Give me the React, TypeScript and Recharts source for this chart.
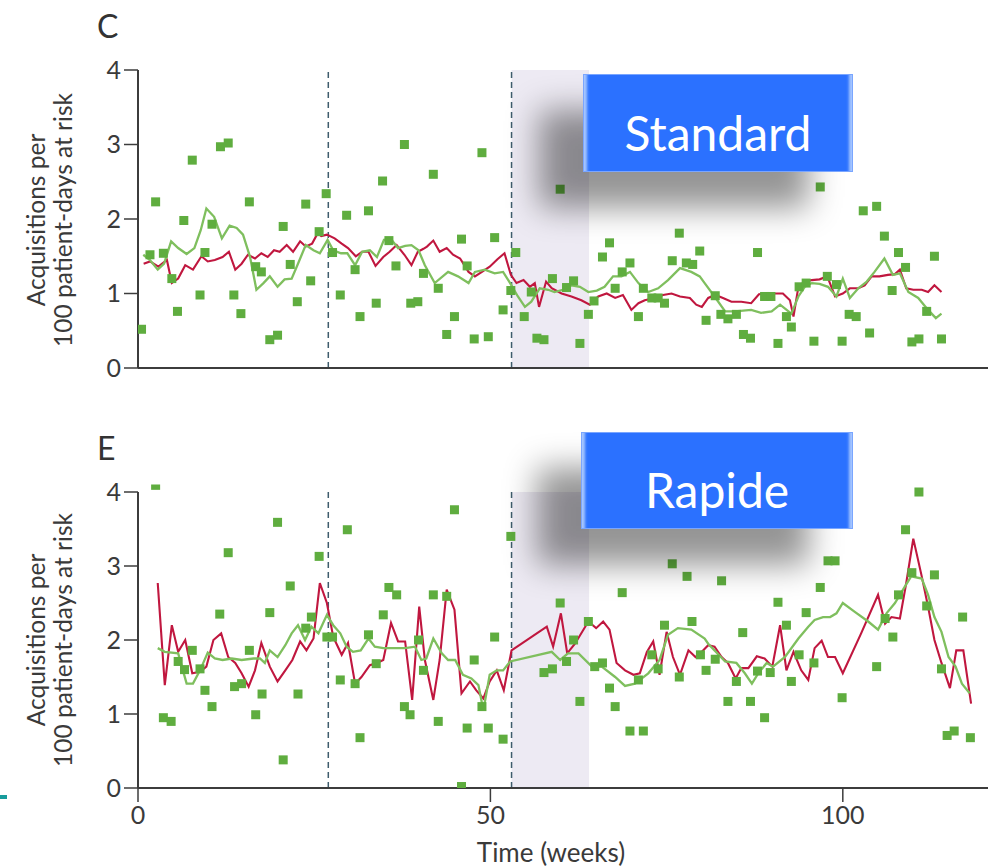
import React from 'react';
import { ComposedChart, Line, Scatter, XAxis, YAxis, ReferenceLine, ReferenceArea } from 'recharts';

const weekTicks = [0, 50, 100];
const rateTicks = [0, 1, 2, 3, 4];
const interventionWeeks = [27, 53];
const shadedPeriod = [53, 64];

const standardPoints: [number, number][] = [
  [0.5,0.52],[1.7,1.52],[2.5,2.23],[3.6,1.54],[4.8,1.20],[5.6,0.76],[6.5,1.98],[7.7,2.79],[8.8,0.98],[9.5,1.55],
  [10.5,1.93],[11.7,2.97],[12.8,3.02],[13.6,0.98],[14.6,0.73],[15.8,2.23],[16.7,1.36],[17.5,1.29],[18.7,0.38],[19.8,0.44],
  [20.6,1.90],[21.6,1.39],[22.6,0.89],[23.8,2.20],[24.5,1.17],[25.7,1.83],[26.7,2.34],[27.6,1.55],[28.7,0.98],[29.6,2.05],
  [30.8,1.32],[31.5,0.69],[32.7,2.11],[33.8,0.87],[34.7,2.51],[35.6,1.71],[36.6,1.37],[37.8,3.00],[38.7,0.87],[39.7,0.89],
  [40.5,1.27],[41.9,2.60],[42.6,1.07],[43.8,0.45],[44.9,0.69],[45.9,1.73],[46.7,1.37],[47.7,0.39],[48.8,2.89],[49.7,0.42],
  [50.6,1.75],[51.8,0.78],[52.9,1.04],[53.6,1.55],[54.8,0.69],[55.8,1.02],[56.6,0.40],[57.6,0.38],[58.8,1.20],[59.9,2.40],
  [60.8,1.08],[61.8,1.17],[62.7,0.33],[63.9,0.72],[64.7,0.90],[65.9,1.49],[66.9,1.68],[67.7,1.07],[68.7,1.29],[69.8,1.41],
  [71.0,0.69],[71.7,1.07],[72.9,0.94],[73.8,0.94],[74.7,0.87],[75.8,1.44],[76.8,1.81],[77.8,1.41],[78.7,1.39],[79.7,1.57],
  [80.6,0.64],[81.9,0.97],[82.7,0.72],[83.7,0.66],[84.9,0.72],[85.9,0.45],[86.9,0.40],[87.9,1.55],[88.9,0.96],[89.8,0.96],
  [90.8,0.33],[92.0,0.69],[92.7,0.55],[93.8,1.09],[94.8,1.14],[95.9,0.36],[96.8,2.43],[97.8,1.23],[99.1,1.12],[99.9,0.36],
  [100.9,0.72],[101.9,0.69],[102.9,2.11],[103.8,0.47],[104.8,2.17],[105.9,1.77],[107.0,1.04],[107.9,1.55],[108.9,1.35],[109.8,0.35],
  [110.8,0.39],[111.9,0.76],[113.0,1.50],[114.0,0.39],
];

const standardRed: [number, number][] = [
  [0.8,1.40],[1.7,1.43],[2.9,1.36],[4.1,1.45],[4.8,1.14],[5.7,1.20],[6.7,1.38],[7.8,1.32],[9.0,1.50],[9.9,1.43],
  [10.9,1.45],[12.0,1.49],[12.9,1.56],[13.8,1.32],[14.7,1.40],[15.6,1.52],[16.6,1.47],[17.5,1.54],[18.4,1.49],[19.3,1.58],
  [20.1,1.56],[21.1,1.65],[22.0,1.56],[23.0,1.70],[23.8,1.63],[24.7,1.67],[25.5,1.81],[26.0,1.77],[26.8,1.79],[27.9,1.74],
  [28.9,1.67],[29.8,1.61],[30.9,1.50],[31.8,1.56],[32.7,1.56],[33.7,1.37],[34.8,1.49],[35.7,1.56],[36.7,1.65],[37.8,1.52],
  [38.8,1.38],[39.7,1.56],[40.5,1.60],[41.0,1.63],[41.9,1.71],[42.8,1.56],[43.8,1.61],[44.7,1.52],[45.7,1.47],[46.9,1.29],
  [47.8,1.23],[48.8,1.29],[49.9,1.36],[51.0,1.46],[52.0,1.54],[52.9,1.25],[53.7,1.14],[54.7,1.18],[55.6,1.09],[56.3,1.14],
  [56.9,0.82],[57.9,1.16],[58.7,1.07],[60.1,1.00],[61.5,0.96],[62.9,0.91],[64.1,0.85],[65.3,0.96],[66.5,1.00],[67.7,0.94],
  [68.8,0.98],[70.0,0.78],[71.0,0.87],[71.9,0.91],[73.3,0.94],[74.5,0.98],[75.7,1.00],[76.9,0.96],[78.3,0.94],[79.2,0.85],
  [80.0,0.82],[80.9,0.94],[81.9,0.98],[83.0,0.94],[84.2,0.89],[85.6,0.89],[87.0,0.87],[88.1,0.99],[89.2,1.00],[90.4,1.00],
  [91.5,1.00],[92.5,0.91],[93.0,0.69],[93.7,1.09],[94.6,1.16],[95.6,1.18],[96.7,1.19],[97.8,1.23],[98.9,0.96],[100.0,1.00],
  [101.0,1.07],[102.2,1.07],[103.1,1.11],[104.1,1.23],[105.2,1.23],[106.4,1.25],[107.4,1.26],[108.1,1.32],[109.0,1.07],[110.0,1.05],
  [111.2,1.05],[112.1,1.02],[113.0,1.11],[114.0,1.02],
];

const standardGreen: [number, number][] = [
  [0.75,1.52],[1.7,1.45],[2.8,1.32],[3.7,1.40],[4.7,1.70],[5.7,1.61],[6.9,1.53],[8.0,1.61],[8.9,1.85],[9.7,2.14],
  [10.8,2.03],[11.9,1.74],[13.0,1.91],[14.0,1.88],[14.9,1.79],[15.9,1.49],[16.8,1.05],[17.8,1.14],[18.7,1.23],[19.8,1.09],
  [20.8,1.19],[21.8,1.20],[22.7,1.40],[23.8,1.65],[24.9,1.58],[25.8,1.54],[26.9,1.72],[27.7,1.58],[28.8,1.54],[29.7,1.54],
  [30.8,1.38],[31.8,1.56],[32.9,1.58],[33.9,1.49],[34.9,1.72],[35.9,1.73],[36.9,1.61],[37.9,1.64],[38.8,1.65],[39.8,1.58],
  [40.7,1.38],[42.1,1.14],[44.0,1.29],[45.4,1.23],[46.9,1.14],[47.8,1.29],[49.2,1.32],[50.6,1.27],[51.8,1.29],[52.8,1.14],
  [53.9,0.96],[54.9,0.82],[55.8,0.89],[57.0,1.07],[58.2,1.05],[59.1,1.02],[60.3,1.05],[61.5,1.11],[62.7,1.09],[63.9,1.02],
  [65.1,1.04],[66.2,1.09],[67.4,1.23],[68.6,1.23],[69.8,1.29],[71.0,1.14],[72.4,1.02],[73.8,1.07],[75.2,1.18],[76.9,1.34],
  [78.5,1.29],[79.7,1.23],[80.4,1.14],[81.8,0.96],[83.3,0.76],[84.7,0.76],[87.0,0.78],[88.4,0.74],[89.9,0.76],[91.1,0.85],
  [92.7,0.73],[93.7,0.96],[94.6,1.09],[95.6,1.14],[96.7,1.13],[97.9,1.09],[99.1,0.96],[100.0,1.20],[101.0,0.94],[102.2,1.07],
  [103.4,1.16],[104.5,1.29],[105.9,1.47],[107.1,1.25],[108.1,1.27],[109.3,1.02],[110.7,0.94],[112.1,0.78],[113.2,0.67],[114.0,0.73],
];

const rapidePoints: [number, number][] = [
  [2.5,4.09],[3.6,0.95],[4.7,0.90],[5.7,1.71],[6.6,1.60],[7.7,1.86],[8.8,1.61],[9.5,1.32],[10.5,1.10],[11.6,2.35],
  [12.8,3.18],[13.7,1.37],[14.7,1.41],[15.8,1.86],[16.7,0.99],[17.6,1.27],[18.7,2.37],[19.8,3.59],[20.6,0.38],[21.6,2.73],
  [22.7,1.27],[23.8,2.16],[24.6,2.31],[25.7,3.13],[26.8,2.04],[27.6,2.04],[28.7,1.46],[29.7,3.49],[30.8,1.41],[31.5,0.68],
  [32.7,2.07],[33.8,1.68],[34.8,2.34],[35.6,2.71],[36.7,2.61],[37.8,1.10],[38.6,0.99],[39.8,2.00],[40.5,1.59],[41.9,2.61],
  [42.6,0.90],[43.8,2.59],[44.9,3.76],[45.9,0.02],[46.7,0.81],[47.7,1.73],[48.8,1.10],[49.7,0.81],[50.6,2.04],[51.8,0.66],
  [52.9,3.40],[57.6,1.56],[58.8,1.61],[59.9,2.50],[60.8,1.71],[61.8,2.00],[62.7,1.17],[63.9,2.25],[64.8,1.64],[65.9,1.69],
  [66.9,1.35],[67.7,1.10],[68.7,2.64],[69.8,0.77],[71.0,1.46],[71.7,0.77],[72.9,1.80],[73.8,1.61],[74.7,2.20],[75.8,3.03],
  [76.8,1.50],[77.9,2.86],[78.6,2.25],[79.8,1.80],[80.6,1.59],[81.9,1.74],[82.8,2.80],[83.7,1.17],[84.9,1.44],[85.8,2.10],
  [86.9,1.17],[87.9,1.58],[88.9,0.95],[89.7,1.56],[90.8,2.51],[92.0,2.20],[92.7,1.44],[93.8,1.80],[94.8,2.37],[95.9,1.69],
  [96.8,2.71],[97.9,3.07],[98.9,3.07],[99.9,1.22],[104.8,1.64],[106.0,2.29],[107.1,2.04],[107.9,2.61],[108.9,3.49],[109.8,2.91],
  [110.8,4.00],[111.9,2.46],[113.0,2.88],[114.0,1.61],[114.8,0.71],[115.8,0.77],[117.0,2.31],[118.1,0.68],
];

const rapideRed: [number, number][] = [
  [2.8,2.77],[3.8,1.39],[4.8,2.20],[5.7,1.84],[6.7,2.00],[7.7,1.55],[8.8,1.57],[9.7,1.64],[10.7,2.00],[11.8,2.09],
  [12.8,1.77],[13.8,1.69],[14.7,1.55],[15.7,1.37],[16.6,1.59],[17.5,1.96],[18.7,1.64],[19.8,1.44],[20.9,1.59],[21.9,1.73],
  [23.0,1.98],[23.9,1.86],[24.9,2.02],[25.8,2.77],[26.8,2.50],[27.7,2.04],[28.9,1.80],[29.8,1.96],[30.8,1.41],[31.7,1.50],
  [32.9,1.66],[33.9,1.69],[34.8,1.73],[35.9,2.23],[36.9,1.98],[37.9,1.98],[38.9,1.19],[39.9,2.45],[40.7,1.73],[41.9,1.19],
  [42.8,1.73],[43.8,2.68],[44.9,2.41],[45.9,1.28],[47.1,1.44],[48.0,1.32],[49.0,1.21],[49.9,1.44],[50.9,1.59],[51.9,1.32],
  [53.0,1.86],[58.0,2.18],[58.9,1.91],[60.0,2.36],[60.9,1.82],[62.0,1.95],[63.9,2.25],[65.0,2.16],[66.0,2.25],[66.9,2.14],
  [67.9,1.69],[69.1,1.59],[70.3,1.53],[71.2,1.55],[72.2,1.84],[73.1,1.98],[74.0,1.53],[75.0,2.11],[75.9,1.77],[76.9,1.53],
  [78.1,1.86],[79.1,1.77],[80.0,1.84],[80.9,1.93],[81.8,1.91],[82.8,1.77],[83.7,1.69],[84.8,1.48],[85.6,1.62],[86.6,1.62],
  [87.8,1.78],[88.9,1.75],[90.0,1.64],[91.1,2.20],[92.0,1.59],[93.0,1.84],[94.1,1.59],[95.1,1.46],[96.0,1.89],[97.0,1.99],
  [97.9,1.77],[98.9,1.77],[100.0,1.55],[102.6,2.09],[105.0,2.61],[106.0,2.22],[106.9,2.31],[108.1,2.29],[109.0,2.77],[110.0,3.37],
  [111.2,2.86],[112.1,2.45],[113.0,2.00],[114.0,1.69],[115.2,1.35],[116.1,1.86],[117.1,1.86],[118.2,1.14],
];

const rapideGreen: [number, number][] = [
  [2.8,1.89],[3.8,1.84],[5.7,1.82],[6.9,1.41],[7.8,1.41],[8.8,1.59],[9.9,1.83],[10.9,1.75],[12.0,1.73],[13.3,1.75],
  [14.7,1.73],[16.4,1.75],[17.3,1.75],[18.0,1.69],[18.7,1.86],[19.8,1.77],[20.9,1.93],[21.8,2.09],[22.7,2.20],[23.7,2.00],
  [24.6,2.18],[25.6,2.09],[26.8,2.34],[27.7,2.20],[28.7,2.09],[29.6,1.91],[30.5,1.84],[31.6,1.86],[32.7,2.02],[33.6,1.91],
  [34.8,1.89],[36.2,1.89],[37.9,1.89],[39.3,1.91],[40.2,1.73],[40.9,1.75],[41.9,2.02],[43.1,1.82],[44.0,1.73],[45.0,1.73],
  [46.1,1.53],[47.3,1.48],[48.3,1.39],[49.0,1.05],[49.9,1.53],[50.9,1.59],[51.8,1.59],[52.8,1.71],[58.7,1.84],[59.9,1.73],
  [61.0,1.82],[62.5,1.82],[64.4,1.64],[65.8,1.64],[67.7,1.50],[69.1,1.38],[70.5,1.41],[72.4,1.55],[74.0,1.73],[75.2,2.07],
  [76.6,2.16],[78.5,2.14],[80.4,2.02],[80.9,1.95],[81.8,1.86],[83.3,1.71],[84.9,1.69],[86.1,1.55],[87.1,1.41],[88.0,1.55],
  [89.2,1.69],[90.1,1.64],[91.8,1.77],[93.7,2.02],[95.1,2.18],[96.0,2.27],[97.2,2.31],[98.2,2.31],[99.1,2.36],[100.0,2.50],
  [101.7,2.38],[103.6,2.25],[105.0,2.14],[106.2,2.36],[107.4,2.50],[108.8,2.72],[109.7,2.86],[111.2,2.83],[112.1,2.61],[113.0,2.31],
  [114.0,2.11],[115.0,1.77],[116.0,1.64],[116.9,1.41],[118.0,1.28],
];

const toXY = (arr: [number, number][]) => arr.map(([x, y]) => ({ x, y }));

const FONT = 'Lato, "Open Sans", sans-serif';
const AXIS = '#3c3c3c';
const TEXT = '#3a3a3a';
const SQUARE = '#5fad3f';
const RED = '#c0173f';
const GREEN = '#7fbf5e';

function Square(props: any) {
  const { cx, cy } = props;
  if (cx == null || cy == null) return null;
  return <rect x={cx - 4.5} y={cy - 4.5} width={9} height={9} fill={SQUARE} />;
}

function YTitle(props: any) {
  const vb = props.viewBox || {};
  const cy = vb.y + vb.height - 148;
  const style = { fontFamily: FONT, fontSize: 24.5, fill: TEXT };
  return (
    <g>
      <text x={35} y={cy} transform={`rotate(-90 35 ${cy})`} textAnchor="middle" dominantBaseline="central" style={style}>
        Acquisitions per
      </text>
      <text x={62} y={cy} transform={`rotate(-90 62 ${cy})`} textAnchor="middle" dominantBaseline="central" style={style}>
        100 patient-days at risk
      </text>
    </g>
  );
}

function XTitle(props: any) {
  const vb = props.viewBox || {};
  return (
    <text x={551} y={vb.y + 74} textAnchor="middle" style={{ fontFamily: FONT, fontSize: 26, fill: TEXT }}>
      Time (weeks)
    </text>
  );
}

type PanelProps = {
  top: number;
  height: number;
  margin: { top: number; right: number; bottom: number; left: number };
  xAxisHeight: number;
  yMax: number;
  points: [number, number][];
  red: [number, number][];
  green: [number, number][];
  showXLabels: boolean;
};

function Panel(p: PanelProps) {
  const tickStyle = { fontFamily: FONT, fontSize: 25, fill: TEXT };
  return (
    <div style={{ position: 'absolute', left: 0, top: p.top }}>
      <ComposedChart width={988} height={p.height} margin={p.margin}>
        <XAxis
          type="number"
          dataKey="x"
          domain={[0, 120.6]}
          ticks={weekTicks}
          tickSize={14}
          tickMargin={4}
          height={p.xAxisHeight}
          axisLine={{ stroke: AXIS, strokeWidth: 2 }}
          tickLine={{ stroke: AXIS, strokeWidth: 1.5 }}
          tick={p.showXLabels ? tickStyle : false}
          tickFormatter={(v: number) => (p.showXLabels ? String(v) : '')}
          label={p.showXLabels ? (lp: any) => <XTitle {...lp} /> : undefined}
          allowDataOverflow
        />
        <YAxis
          type="number"
          dataKey="y"
          domain={[0, p.yMax]}
          ticks={rateTicks}
          width={138}
          tickSize={14}
          tickMargin={3}
          axisLine={false}
          tickLine={{ stroke: AXIS, strokeWidth: 1.5 }}
          tick={tickStyle}
          allowDataOverflow
          label={(lp: any) => <YTitle {...lp} />}
        />
        <ReferenceArea x1={shadedPeriod[0]} x2={shadedPeriod[1]} y1={0} y2={4} fill="#edeaf3" fillOpacity={1} stroke="none" ifOverflow="visible" />
        {interventionWeeks.map((w) => (
          <ReferenceLine key={w} segment={[{ x: w, y: 0 }, { x: w, y: 4 }]} stroke="#3e5c6c" strokeWidth={1.5} strokeDasharray="6 4" ifOverflow="visible" />
        ))}
        <ReferenceLine segment={[{ x: 0, y: 0 }, { x: 0, y: 4 }]} stroke={AXIS} strokeWidth={2} ifOverflow="visible" />
        <Line data={toXY(p.red)} dataKey="y" type="linear" stroke={RED} strokeWidth={2.1} dot={false} isAnimationActive={false} />
        <Line data={toXY(p.green)} dataKey="y" type="linear" stroke={GREEN} strokeWidth={2.3} dot={false} isAnimationActive={false} />
        <Scatter data={toXY(p.points)} dataKey="y" shape={Square} isAnimationActive={false} />
      </ComposedChart>
    </div>
  );
}

function LabelBox({ left, top, width, height, text }: { left: number; top: number; width: number; height: number; text: string }) {
  return (
    <div
      style={{
        position: 'absolute',
        left,
        top,
        width,
        height,
        boxSizing: 'border-box',
        paddingTop: 18,
        background: '#2b71ff',
        border: '1px solid #7aa6ff',
        boxShadow:
          'inset 6px 0 3px -3px rgba(190,215,255,0.85), inset -6px 0 3px -3px rgba(190,215,255,0.85), -44px 36px 32px rgba(0,0,0,0.42)',
        color: '#fff',
        fontFamily: FONT,
        fontSize: 48,
        display: 'flex',
        alignItems: 'center',
        justifyContent: 'center',
      }}
    >
      {text}
    </div>
  );
}

export default function App() {
  return (
    <div style={{ position: 'absolute', left: 0, top: 0, width: 988, height: 868, background: '#fff', overflow: 'hidden' }}>
      <Panel
        top={0}
        height={420}
        margin={{ top: 70, right: 0, bottom: 22, left: 0 }}
        xAxisHeight={30}
        yMax={4}
        points={standardPoints}
        red={standardRed}
        green={standardGreen}
        showXLabels={false}
      />
      <Panel
        top={420}
        height={448}
        margin={{ top: 64.6, right: 0, bottom: 30, left: 0 }}
        xAxisHeight={50}
        yMax={4.1}
        points={rapidePoints}
        red={rapideRed}
        green={rapideGreen}
        showXLabels={true}
      />
      <div style={{ position: 'absolute', left: 97, top: 6, fontFamily: FONT, fontSize: 32, color: '#333' }}>C</div>
      <div style={{ position: 'absolute', left: 97, top: 428, fontFamily: FONT, fontSize: 32, color: '#333' }}>E</div>
      <LabelBox left={583} top={74} width={270} height={98} text="Standard" />
      <LabelBox left={581} top={432} width={272} height={97} text="Rapide" />
      <div style={{ position: 'absolute', left: 0, top: 795, width: 7, height: 4, background: '#179c9c' }} />
    </div>
  );
}
